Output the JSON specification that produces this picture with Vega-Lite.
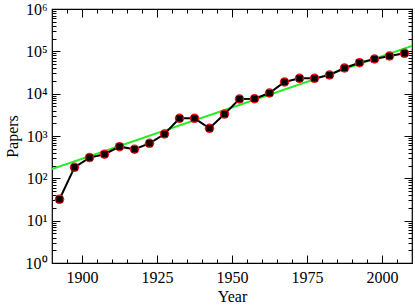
{
  "$schema": "https://vega.github.io/schema/vega-lite/v6.json",
  "width": 360,
  "height": 254,
  "autosize": "none",
  "padding": {"left": 52, "top": 9, "right": 3, "bottom": 43},
  "background": "white",
  "config": {
    "view": {"stroke": "black", "strokeWidth": 1.2},
    "axis": {
      "domain": false, "grid": false,
      "labelFont": "Liberation Serif", "titleFont": "Liberation Serif",
      "labelFontSize": 16, "titleFontSize": 16, "titleFontWeight": "normal",
      "labelColor": "black", "titleColor": "black", "tickColor": "black", "tickWidth": 1
    }
  },
  "datasets": {
    "obs": [
      {"Year": 1892.5, "Papers": 32},
      {"Year": 1897.5, "Papers": 182},
      {"Year": 1902.5, "Papers": 309},
      {"Year": 1907.5, "Papers": 372},
      {"Year": 1912.5, "Papers": 560},
      {"Year": 1917.5, "Papers": 486},
      {"Year": 1922.5, "Papers": 672},
      {"Year": 1927.5, "Papers": 1115},
      {"Year": 1932.5, "Papers": 2610},
      {"Year": 1937.5, "Papers": 2610},
      {"Year": 1942.5, "Papers": 1520},
      {"Year": 1947.5, "Papers": 3300},
      {"Year": 1952.5, "Papers": 7480},
      {"Year": 1957.5, "Papers": 7580},
      {"Year": 1962.5, "Papers": 10370},
      {"Year": 1967.5, "Papers": 18850},
      {"Year": 1972.5, "Papers": 23000},
      {"Year": 1977.5, "Papers": 23000},
      {"Year": 1982.5, "Papers": 27600},
      {"Year": 1987.5, "Papers": 40400},
      {"Year": 1992.5, "Papers": 53900},
      {"Year": 1997.5, "Papers": 65900},
      {"Year": 2002.5, "Papers": 77600},
      {"Year": 2007.5, "Papers": 89800}
    ],
    "fit": [
      {"Year": 1890, "Papers": 166},
      {"Year": 2010, "Papers": 134000}
    ]
  },
  "layer": [
    {
      "data": {"name": "fit"},
      "mark": {"type": "line", "color": "#22ee22", "strokeWidth": 2, "clip": true},
      "encoding": {
        "x": {"field": "Year", "type": "quantitative",
          "scale": {"domain": [1890, 2010], "nice": false, "zero": false},
          "axis": {"orient": "bottom", "values": [1900, 1925, 1950, 1975, 2000], "format": "d",
            "tickSize": -8, "labelPadding": 14, "labelFlush": false, "title": "Year", "titlePadding": 3}},
        "y": {"field": "Papers", "type": "quantitative",
          "scale": {"type": "log", "domain": [1, 1000000], "nice": false},
          "axis": {"orient": "left", "values": [1, 10, 100, 1000, 10000, 100000, 1000000],
            "tickSize": -8, "labelPadding": 13, "labelFlush": false,
            "labelExpr": "'10' + ['⁰','¹','²','³','⁴','⁵','⁶'][round(log(datum.value)/LN10)]",
            "title": "Papers", "titlePadding": 5}}
      }
    },
    {
      "data": {"name": "obs"},
      "mark": {"type": "line", "color": "black", "strokeWidth": 2},
      "encoding": {
        "x": {"field": "Year", "type": "quantitative",
          "axis": {"orient": "bottom", "values": [1895, 1905, 1910, 1915, 1920, 1930, 1935, 1940, 1945, 1955, 1960, 1965, 1970, 1980, 1985, 1990, 1995, 2005],
            "tickSize": -4, "labels": false, "title": null}},
        "y": {"field": "Papers", "type": "quantitative",
          "axis": {"orient": "left", "values": [2,3,4,5,6,7,8,9,20,30,40,50,60,70,80,90,200,300,400,500,600,700,800,900,2000,3000,4000,5000,6000,7000,8000,9000,20000,30000,40000,50000,60000,70000,80000,90000,200000,300000,400000,500000,600000,700000,800000,900000],
            "tickSize": -4, "labels": false, "title": null}}
      }
    },
    {
      "data": {"name": "obs"},
      "mark": {"type": "point", "shape": "circle", "filled": true, "color": "#ee1111", "size": 90, "opacity": 1},
      "encoding": {
        "x": {"field": "Year", "type": "quantitative",
          "axis": {"orient": "top", "values": [1900, 1925, 1950, 1975, 2000], "tickSize": -8, "labels": false, "title": null}},
        "y": {"field": "Papers", "type": "quantitative",
          "axis": {"orient": "right", "values": [1, 10, 100, 1000, 10000, 100000, 1000000], "tickSize": -8, "labels": false, "title": null}}
      }
    },
    {
      "data": {"name": "obs"},
      "mark": {"type": "point", "shape": "square", "filled": true, "color": "black", "size": 40, "opacity": 1},
      "encoding": {
        "x": {"field": "Year", "type": "quantitative",
          "axis": {"orient": "top", "values": [1895, 1905, 1910, 1915, 1920, 1930, 1935, 1940, 1945, 1955, 1960, 1965, 1970, 1980, 1985, 1990, 1995, 2005],
            "tickSize": -4, "labels": false, "title": null}},
        "y": {"field": "Papers", "type": "quantitative",
          "axis": {"orient": "right", "values": [2,3,4,5,6,7,8,9,20,30,40,50,60,70,80,90,200,300,400,500,600,700,800,900,2000,3000,4000,5000,6000,7000,8000,9000,20000,30000,40000,50000,60000,70000,80000,90000,200000,300000,400000,500000,600000,700000,800000,900000],
            "tickSize": -4, "labels": false, "title": null}}
      }
    }
  ],
  "resolve": {"axis": {"x": "independent", "y": "independent"}}
}
